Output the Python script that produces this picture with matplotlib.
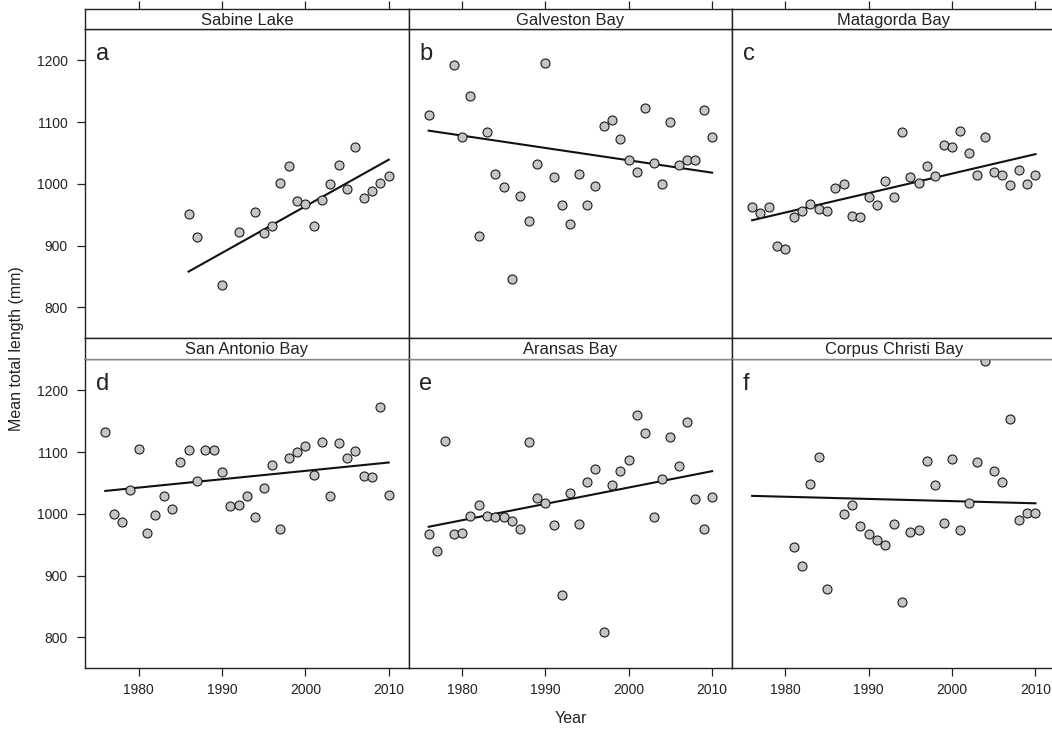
import matplotlib
matplotlib.use('Agg')
import matplotlib.pyplot as plt

plt.rcParams['font.family'] = ['Liberation Sans', 'DejaVu Sans']

# values
bays = ['Sabine Lake', 'Galveston Bay', 'Matagorda Bay',
        'San Antonio Bay', 'Aransas Bay', 'Corpus Christi Bay']
letters = ['a', 'b', 'c', 'd', 'e', 'f']

sabine_years = [1986, 1987, 1990, 1992, 1994, 1995, 1996, 1997, 1998, 1999, 2000,
                2001, 2002, 2003, 2004, 2005, 2006, 2007, 2008, 2009, 2010]
sabine_tl = [951, 914, 836, 922, 954, 921, 931, 1001, 1028, 972, 967,
             931, 974, 1000, 1031, 991, 1060, 977, 989, 1002, 1013]

galveston_years = [1976, 1979, 1980, 1981, 1982, 1983, 1984, 1985, 1986, 1987, 1988,
                   1989, 1990, 1991, 1992, 1993, 1994, 1995, 1996, 1997, 1998, 1999,
                   2000, 2001, 2002, 2003, 2004, 2005, 2006, 2007, 2008, 2009, 2010]
galveston_tl = [1111, 1192, 1076, 1142, 916, 1084, 1016, 995, 846, 980, 939,
                1032, 1196, 1011, 966, 935, 1016, 965, 997, 1094, 1103, 1072,
                1039, 1019, 1123, 1034, 1000, 1100, 1030, 1038, 1039, 1120, 1076]

full_years = [1976, 1977, 1978, 1979, 1980, 1981, 1982, 1983, 1984, 1985, 1986, 1987,
              1988, 1989, 1990, 1991, 1992, 1993, 1994, 1995, 1996, 1997, 1998, 1999,
              2000, 2001, 2002, 2003, 2004, 2005, 2006, 2007, 2008, 2009, 2010]

matagorda_tl = [963, 953, 963, 900, 895, 946, 956, 968, 959, 956, 994, 1000,
                948, 946, 978, 966, 1004, 978, 1084, 1011, 1002, 1028, 1012, 1062,
                1059, 1086, 1050, 1014, 1076, 1019, 1015, 998, 1023, 1000, 1014]

san_antonio_tl = [1132, 1000, 986, 1038, 1105, 969, 998, 1029, 1007, 1084, 1104, 1053,
                  1104, 1103, 1067, 1012, 1015, 1029, 995, 1041, 1079, 976, 1090, 1100,
                  1109, 1062, 1116, 1029, 1114, 1091, 1102, 1061, 1060, 1173, 1030]

aransas_tl = [967, 939, 1118, 968, 969, 997, 1015, 997, 995, 995, 989, 976,
              1116, 1026, 1017, 982, 868, 1033, 984, 1052, 1073, 809, 1046, 1070,
              1087, 1160, 1131, 995, 1057, 1125, 1078, 1148, 1024, 975, 1027]

corpus_years = [1981, 1982, 1983, 1984, 1985, 1987, 1988, 1989, 1990, 1991, 1992,
                1993, 1994, 1995, 1996, 1997, 1998, 1999, 2000, 2001, 2002, 2003,
                2004, 2005, 2006, 2007, 2008, 2009, 2010]
corpus_tl = [947, 916, 1049, 1092, 878, 999, 1014, 980, 968, 957, 949,
             984, 857, 970, 974, 1085, 1047, 985, 1088, 974, 1017, 1084,
             1248, 1069, 1051, 1154, 990, 1001, 1001]

# fitted trend lines: (start year, end year), (start value, end value)
trend_years = [(1986, 2010), (1976, 2010), (1976, 2010),
               (1976, 2010), (1976, 2010), (1976, 2010)]
trend_vals = [(858, 1039), (1086, 1018), (941, 1048),
              (1037, 1083), (979, 1069), (1029, 1017)]

all_years = [sabine_years, galveston_years, full_years,
             full_years, full_years, corpus_years]
all_tl = [sabine_tl, galveston_tl, matagorda_tl,
          san_antonio_tl, aransas_tl, corpus_tl]

x_ticks = [1980, 1990, 2000, 2010]
y_ticks = [800, 900, 1000, 1100, 1200]
xlim = (1973.6, 2012.4)
ylim = (750, 1250)

W, H = 1052, 730
fig = plt.figure(figsize=(W / 100, H / 100), dpi=100)

col_left = [85.3, 408.7, 732.1]
col_w = 323.4
# (strip top, panel top, panel bottom) in pixels from top
rows = [(9.3, 29.3, 338.3), (338.3, 359.3, 668.3)]

txt_col = '#222222'
line_col = '#222222'
tick_len = 5.8

for i in range(6):
    r, c = divmod(i, 3)
    s_top, p_top, p_bot = rows[r]
    x0 = col_left[c] / W
    w = col_w / W

    ax = fig.add_axes([x0, (H - p_bot) / H, w, (p_bot - p_top) / H])
    ax.set_xlim(*xlim)
    ax.set_ylim(*ylim)
    for sp in ax.spines.values():
        sp.set_color(line_col)
        sp.set_linewidth(1.0)

    ax.plot(trend_years[i], trend_vals[i], color='#111111', lw=1.5, zorder=2)
    ax.scatter(all_years[i], all_tl[i], s=42, facecolor='#c4c4c4',
               edgecolor='#1a1a1a', linewidth=0.8, zorder=3)

    ax.text(0.033, 0.9, letters[i], transform=ax.transAxes, fontsize=17,
            color=txt_col, va='baseline', ha='left')

    ax.set_xticks(x_ticks)
    ax.set_yticks(y_ticks)
    ax.tick_params(direction='out', length=tick_len, width=0.9, color=line_col,
                   labelsize=10, labelcolor=txt_col)
    if r == 1:
        ax.tick_params(axis='x', pad=5)
    else:
        ax.tick_params(axis='x', bottom=False, labelbottom=False)
    if c == 0:
        ax.tick_params(axis='y', pad=7)
    else:
        ax.tick_params(axis='y', left=False, labelleft=False)

    # strip with the bay name
    sax = fig.add_axes([x0, (H - p_top) / H, w, (p_top - s_top) / H])
    sax.set_xlim(*xlim)
    sax.set_yticks([])
    for sp in sax.spines.values():
        sp.set_color(line_col)
        sp.set_linewidth(1.0)
    if r == 1:
        sax.spines['bottom'].set_color('#888888')
    sax.text(0.5, 0.45, bays[i], transform=sax.transAxes, ha='center',
             va='center', fontsize=11.9, color=txt_col)
    if r == 0:
        sax.set_xticks(x_ticks)
        sax.tick_params(axis='x', bottom=False, labelbottom=False, top=True,
                        labeltop=False, direction='out', length=tick_len,
                        width=0.9, color=line_col)
    else:
        sax.set_xticks([])

fig.text(570.6 / W, (H - 722.7) / H, 'Year', ha='center', va='baseline',
         fontsize=11.5, color=txt_col)
fig.text(17 / W, (H - 348.5) / H, 'Mean total length (mm)', ha='center',
         va='center', rotation=90, fontsize=11.5, color=txt_col)

fig.savefig('out.png', dpi=100)
